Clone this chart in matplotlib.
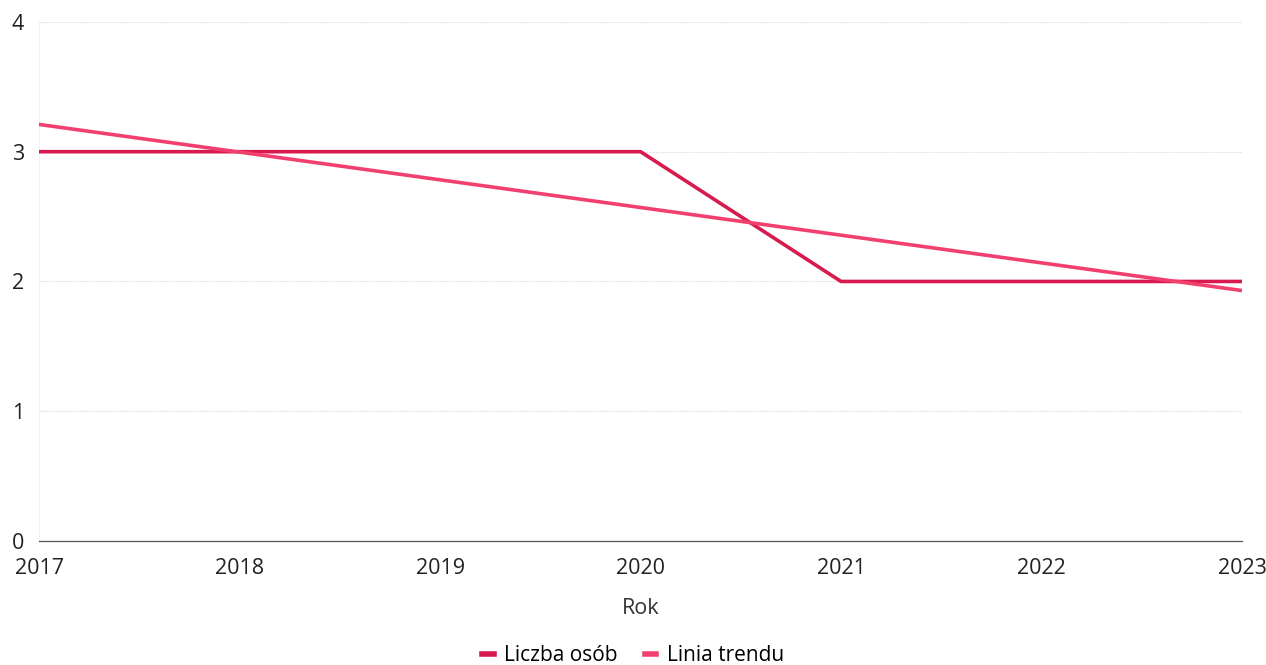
import matplotlib.pyplot as plt

plt.rcParams['font.family'] = ['Open Sans', 'DejaVu Sans']

# data
years = [2017, 2018, 2019, 2020, 2021, 2022, 2023]
liczba_osob = [3, 3, 3, 3, 2, 2, 2]
trend_years = [2017, 2023]
trend_values = [3.21, 1.93]

fig = plt.figure(figsize=(12.66, 6.65), dpi=100)
ax = fig.add_axes([0.031, 0.1865, 0.950, 0.7805])

ax.plot(years, liczba_osob, color="#d81b4f", linewidth=2.6, label="Liczba osób", zorder=3)
ax.plot(trend_years, trend_values, color="#f2406e", linewidth=2.6, label="Linia trendu", zorder=3)

ax.set_xlim(2017, 2023)
ax.set_ylim(0, 4)
ax.set_xticks(years)
ax.set_yticks([0, 1, 2, 3, 4])
ax.grid(axis="y", color="#e4e4e4", linestyle=(0, (2, 1)), linewidth=0.8)
ax.axvline(2017, color="#eeeeee", linewidth=0.8, linestyle=(0, (2, 1)))
for s in ["top", "right", "left"]:
    ax.spines[s].set_visible(False)
ax.spines["bottom"].set_color("#555555")
ax.spines["bottom"].set_linestyle((0, (6, 1)))
ax.spines["bottom"].set_linewidth(0.9)
ax.tick_params(length=0, labelsize=15.5, colors="#222222")
ax.tick_params(axis="y", pad=11)
ax.tick_params(axis="x", pad=12)
ax.set_xlabel("Rok", fontsize=15.5, color="#333333", labelpad=14)

leg = fig.legend(loc="lower center", bbox_to_anchor=(0.5, -0.03), ncol=2, frameon=False,
                 fontsize=15, handlelength=0.55, handletextpad=0.5, columnspacing=1.3)
for h in leg.legend_handles:
    h.set_linewidth(4)

fig.savefig("out.png", dpi=100)
